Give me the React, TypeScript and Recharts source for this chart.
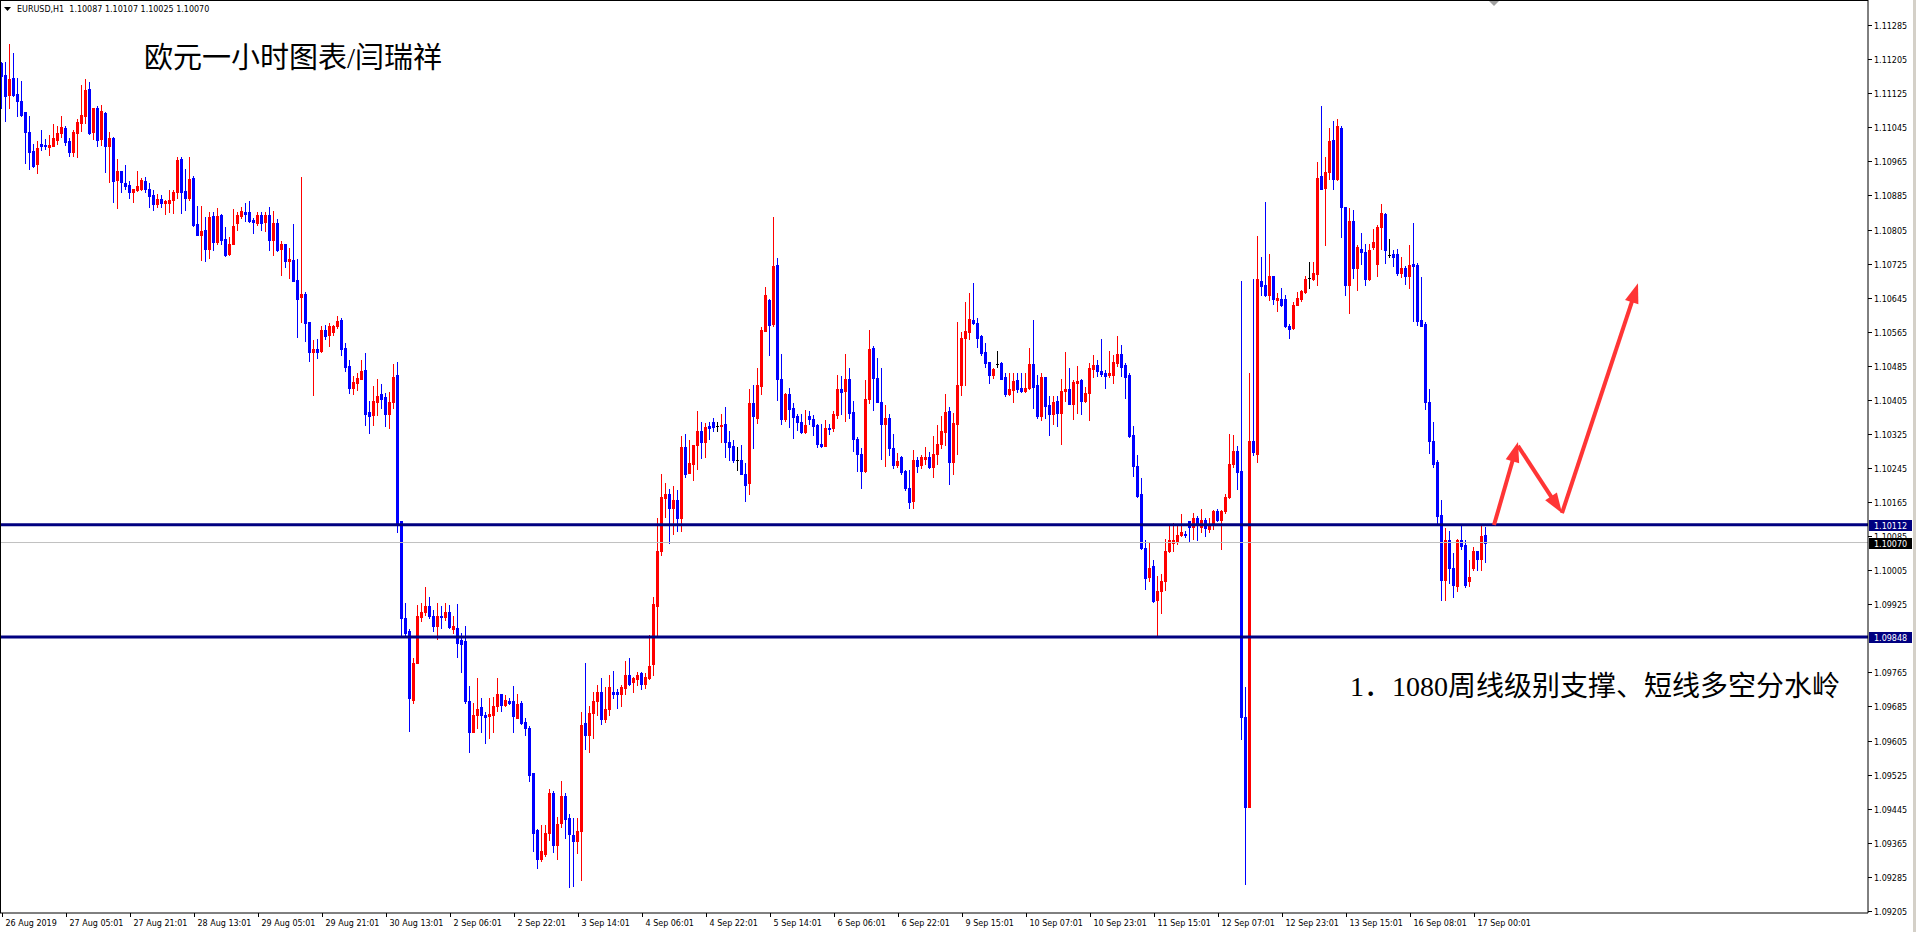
import React from 'react';
import { ComposedChart, Bar, XAxis, YAxis, ReferenceLine } from 'recharts';

// ---------- data (EURUSD H1) ----------
const timeLabels = [
  '26 Aug 2019', '27 Aug 05:01', '27 Aug 21:01', '28 Aug 13:01', '29 Aug 05:01', '29 Aug 21:01',
  '30 Aug 13:01', '2 Sep 06:01', '2 Sep 22:01', '3 Sep 14:01', '4 Sep 06:01', '4 Sep 22:01',
  '5 Sep 14:01', '6 Sep 06:01', '6 Sep 22:01', '9 Sep 15:01', '10 Sep 07:01', '10 Sep 23:01',
  '11 Sep 15:01', '12 Sep 07:01', '12 Sep 23:01', '13 Sep 15:01', '16 Sep 08:01', '17 Sep 00:01',
];
const timeTickBars = [0, 16, 32, 48, 64, 80, 96, 112, 128, 144, 160, 176, 192, 208, 224, 240, 256, 272, 288, 304, 320, 336, 352, 368];

const priceTicks = [
  1.11285, 1.11205, 1.11125, 1.11045, 1.10965, 1.10885, 1.10805, 1.10725, 1.10645, 1.10565,
  1.10485, 1.10405, 1.10325, 1.10245, 1.10165, 1.10085, 1.10005, 1.09925, 1.09765, 1.09685,
  1.09605, 1.09525, 1.09445, 1.09365, 1.09285, 1.09205,
];

const open = [
  1.11195,1.11168,1.11121,1.11162,1.11124,1.11107,1.11080,1.11034,1.10989,1.10959,
  1.11006,1.11004,1.10999,1.11002,1.11016,1.11031,1.11044,1.11013,1.10986,1.11031,
  1.11054,1.11072,1.11134,1.11033,1.11090,1.11018,1.11079,1.11000,1.11019,1.10921,
  1.10943,1.10914,1.10910,1.10892,1.10898,1.10900,1.10919,1.10900,1.10887,1.10864,
  1.10876,1.10867,1.10867,1.10875,1.10892,1.10970,1.10896,1.10878,1.10925,1.10818,
  1.10793,1.10804,1.10759,1.10836,1.10776,1.10839,1.10783,1.10748,1.10770,1.10821,
  1.10836,1.10846,1.10846,1.10827,1.10820,1.10839,1.10822,1.10838,1.10781,1.10821,
  1.10759,1.10770,1.10730,1.10734,1.10686,1.10646,1.10653,1.10587,1.10518,1.10525,
  1.10520,1.10568,1.10558,1.10565,1.10578,1.10592,1.10527,1.10484,1.10432,1.10444,
  1.10455,1.10475,1.10376,1.10369,1.10401,1.10418,1.10411,1.10372,1.10400,1.10463,
  1.10121,1.09892,1.09863,1.09700,1.09786,1.09895,1.09906,1.09920,1.09898,1.09875,
  1.09898,1.09895,1.09906,1.09866,1.09870,1.09840,1.09838,1.09697,1.09626,1.09664,
  1.09683,1.09666,1.09663,1.09664,1.09686,1.09714,1.09689,1.09698,1.09697,1.09658,
  1.09692,1.09649,1.09635,1.09529,1.09394,1.09327,1.09338,1.09388,1.09481,1.09360,
  1.09411,1.09475,1.09423,1.09383,1.09369,1.09392,1.09646,1.09618,1.09670,1.09698,
  1.09720,1.09655,1.09678,1.09720,1.09720,1.09714,1.09729,1.09758,1.09743,1.09750,
  1.09763,1.09738,1.09752,1.09784,1.09921,1.10051,1.10175,1.10183,1.10152,1.10169,
  1.10127,1.10295,1.10234,1.10255,1.10300,1.10332,1.10306,1.10343,1.10354,1.10344,
  1.10343,1.10349,1.10306,1.10297,1.10264,1.10264,1.10232,1.10209,1.10398,1.10363,
  1.10438,1.10567,1.10639,1.10583,1.10721,1.10455,1.10361,1.10418,1.10385,1.10367,
  1.10353,1.10330,1.10367,1.10361,1.10346,1.10302,1.10297,1.10340,1.10339,1.10369,
  1.10430,1.10426,1.10455,1.10376,1.10312,1.10279,1.10238,1.10408,1.10526,1.10457,
  1.10399,1.10349,1.10363,1.10291,1.10252,1.10270,1.10237,1.10199,1.10168,1.10263,
  1.10252,1.10266,1.10270,1.10248,1.10277,1.10302,1.10330,1.10379,1.10259,1.10349,
  1.10439,1.10551,1.10565,1.10592,1.10586,1.10555,1.10518,1.10494,1.10463,1.10490,
  1.10492,1.10459,1.10418,1.10428,1.10451,1.10434,1.10426,1.10432,1.10490,1.10439,
  1.10367,1.10459,1.10393,1.10371,1.10402,1.10374,1.10425,1.10430,1.10395,1.10445,
  1.10451,1.10402,1.10421,1.10477,1.10486,1.10473,1.10469,1.10463,1.10464,1.10492,
  1.10512,1.10486,1.10463,1.10323,1.10249,1.10184,1.10057,1.09989,1.10015,1.09935,
  1.09956,1.09980,1.10050,1.10070,1.10073,1.10087,1.10091,1.10120,1.10106,1.10128,
  1.10107,1.10124,1.10101,1.10110,1.10144,1.10122,1.10143,1.10177,1.10254,1.10285,
  1.10237,1.09660,1.09448,1.10309,1.10279,1.10685,1.10674,1.10652,1.10695,1.10640,
  1.10642,1.10642,1.10578,1.10574,1.10627,1.10642,1.10658,1.10692,1.10689,1.10701,
  1.10930,1.10902,1.10939,1.11016,1.10923,1.11044,1.10859,1.10674,1.10825,1.10714,
  1.10759,1.10753,1.10689,1.10763,1.10724,1.10810,1.10841,1.10745,1.10748,1.10748,
  1.10704,1.10714,1.10695,1.10724,1.10722,1.10593,1.10584,1.10399,1.10309,1.10260,
  1.10134,1.09983,1.10076,1.10009,1.09968,1.10076,1.10064,1.09980,1.10011,1.10050,
  1.10032,1.10087,
];
const high = [
  1.11198,1.11198,1.11241,1.11220,1.11162,1.11154,1.11082,1.11072,1.11006,1.11013,
  1.11038,1.11018,1.11026,1.11053,1.11049,1.11072,1.11049,1.11019,1.11038,1.11064,
  1.11145,1.11159,1.11152,1.11090,1.11096,1.11098,1.11080,1.11033,1.11022,1.10970,
  1.10943,1.10957,1.10919,1.10901,1.10943,1.10925,1.10929,1.10914,1.10898,1.10889,
  1.10887,1.10874,1.10898,1.10898,1.10975,1.10975,1.10948,1.10975,1.10930,1.10860,
  1.10860,1.10835,1.10846,1.10847,1.10856,1.10842,1.10810,1.10788,1.10853,1.10847,
  1.10857,1.10867,1.10872,1.10833,1.10846,1.10847,1.10847,1.10858,1.10849,1.10829,
  1.10779,1.10772,1.10761,1.10818,1.10736,1.10929,1.10659,1.10587,1.10545,1.10547,
  1.10579,1.10581,1.10586,1.10581,1.10601,1.10597,1.10538,1.10498,1.10461,1.10468,
  1.10498,1.10516,1.10403,1.10437,1.10455,1.10443,1.10421,1.10424,1.10489,1.10494,
  1.10121,1.09927,1.09866,1.09798,1.09923,1.09929,1.09966,1.09943,1.09912,1.09927,
  1.09920,1.09929,1.09923,1.09897,1.09926,1.09858,1.09874,1.09732,1.09692,1.09752,
  1.09704,1.09672,1.09706,1.09708,1.09752,1.09715,1.09712,1.09706,1.09732,1.09714,
  1.09697,1.09658,1.09638,1.09529,1.09397,1.09407,1.09407,1.09492,1.09486,1.09426,
  1.09510,1.09481,1.09432,1.09424,1.09424,1.09672,1.09788,1.09687,1.09718,1.09735,
  1.09752,1.09731,1.09760,1.09769,1.09726,1.09735,1.09792,1.09798,1.09755,1.09766,
  1.09767,1.09763,1.09852,1.09943,1.10127,1.10232,1.10209,1.10195,1.10203,1.10194,
  1.10320,1.10326,1.10310,1.10300,1.10380,1.10354,1.10350,1.10352,1.10363,1.10352,
  1.10371,1.10389,1.10331,1.10310,1.10295,1.10300,1.10257,1.10430,1.10441,1.10479,
  1.10576,1.10669,1.10641,1.10835,1.10737,1.10512,1.10420,1.10433,1.10398,1.10371,
  1.10371,1.10381,1.10378,1.10369,1.10349,1.10348,1.10357,1.10348,1.10379,1.10463,
  1.10461,1.10512,1.10479,1.10402,1.10318,1.10291,1.10451,1.10569,1.10531,1.10504,
  1.10479,1.10392,1.10371,1.10324,1.10281,1.10273,1.10240,1.10240,1.10287,1.10270,
  1.10275,1.10295,1.10283,1.10320,1.10346,1.10367,1.10418,1.10389,1.10373,1.10588,
  1.10565,1.10635,1.10656,1.10680,1.10598,1.10557,1.10539,1.10494,1.10479,1.10520,
  1.10493,1.10467,1.10468,1.10468,1.10467,1.10468,1.10467,1.10527,1.10592,1.10463,
  1.10468,1.10459,1.10414,1.10414,1.10414,1.10454,1.10517,1.10480,1.10451,1.10485,
  1.10453,1.10436,1.10492,1.10510,1.10499,1.10547,1.10476,1.10519,1.10511,1.10555,
  1.10533,1.10492,1.10467,1.10344,1.10276,1.10221,1.10075,1.10070,1.10029,1.09992,
  1.09996,1.10079,1.10110,1.10116,1.10110,1.10137,1.10097,1.10120,1.10140,1.10132,
  1.10149,1.10128,1.10128,1.10147,1.10149,1.10147,1.10184,1.10325,1.10323,1.10297,
  1.10683,1.09731,1.10467,1.10689,1.10790,1.10741,1.10870,1.10748,1.10695,1.10655,
  1.10667,1.10652,1.10584,1.10634,1.10658,1.10664,1.10695,1.10729,1.10729,1.10964,
  1.11094,1.10975,1.11044,1.11059,1.11065,1.11049,1.10859,1.10856,1.10852,1.10769,
  1.10798,1.10772,1.10772,1.10806,1.10815,1.10864,1.10843,1.10782,1.10757,1.10759,
  1.10741,1.10720,1.10769,1.10821,1.10726,1.10693,1.10587,1.10430,1.10354,1.10264,
  1.10171,1.10103,1.10097,1.10046,1.10079,1.10110,1.10076,1.10029,1.10060,1.10050,
  1.10110,1.10107,
];
const low = [
  1.11090,1.11061,1.11090,1.11119,1.11072,1.11072,1.10962,1.10946,1.10953,1.10938,
  1.10991,1.10995,1.10979,1.11000,1.11006,1.11022,1.11004,1.10977,1.10977,1.10975,
  1.11036,1.11056,1.11029,1.11018,1.11000,1.11004,1.10941,1.10916,1.10869,1.10855,
  1.10892,1.10901,1.10878,1.10869,1.10896,1.10898,1.10892,1.10857,1.10851,1.10858,
  1.10858,1.10842,1.10846,1.10844,1.10878,1.10844,1.10851,1.10875,1.10813,1.10793,
  1.10734,1.10730,1.10739,1.10758,1.10770,1.10770,1.10743,1.10745,1.10770,1.10804,
  1.10831,1.10826,1.10822,1.10797,1.10815,1.10804,1.10802,1.10757,1.10745,1.10754,
  1.10698,1.10718,1.10691,1.10685,1.10552,1.10587,1.10543,1.10496,1.10416,1.10503,
  1.10518,1.10547,1.10532,1.10557,1.10574,1.10511,1.10473,1.10421,1.10419,1.10428,
  1.10453,1.10347,1.10327,1.10347,1.10369,1.10386,1.10344,1.10338,1.10386,1.10095,
  1.09849,1.09849,1.09628,1.09692,1.09786,1.09886,1.09900,1.09892,1.09863,1.09843,
  1.09870,1.09889,1.09870,1.09858,1.09800,1.09766,1.09692,1.09577,1.09624,1.09635,
  1.09626,1.09600,1.09612,1.09626,1.09675,1.09675,1.09687,1.09691,1.09624,1.09658,
  1.09643,1.09617,1.09510,1.09346,1.09306,1.09323,1.09335,1.09371,1.09343,1.09327,
  1.09403,1.09375,1.09260,1.09264,1.09340,1.09277,1.09586,1.09578,1.09612,1.09666,
  1.09645,1.09649,1.09664,1.09704,1.09681,1.09686,1.09715,1.09735,1.09720,1.09735,
  1.09726,1.09729,1.09750,1.09760,1.09851,1.10040,1.10129,1.10068,1.10089,1.10097,
  1.10097,1.10224,1.10234,1.10217,1.10243,1.10269,1.10272,1.10312,1.10331,1.10331,
  1.10306,1.10270,1.10264,1.10260,1.10241,1.10230,1.10167,1.10183,1.10291,1.10351,
  1.10418,1.10567,1.10510,1.10578,1.10404,1.10348,1.10356,1.10342,1.10316,1.10334,
  1.10328,1.10327,1.10348,1.10322,1.10295,1.10295,1.10297,1.10326,1.10332,1.10363,
  1.10371,1.10356,1.10363,1.10285,1.10238,1.10199,1.10236,1.10398,1.10382,1.10399,
  1.10265,1.10250,1.10275,1.10246,1.10248,1.10232,1.10194,1.10152,1.10152,1.10236,
  1.10244,1.10255,1.10245,1.10223,1.10255,1.10291,1.10299,1.10208,1.10230,1.10277,
  1.10416,1.10439,1.10547,1.10583,1.10529,1.10510,1.10483,1.10445,1.10457,1.10483,
  1.10453,1.10414,1.10416,1.10400,1.10424,1.10424,1.10424,1.10430,1.10387,1.10363,
  1.10357,1.10363,1.10322,1.10349,1.10343,1.10301,1.10402,1.10395,1.10360,1.10375,
  1.10371,1.10400,1.10357,1.10459,1.10461,1.10461,1.10433,1.10459,1.10445,1.10484,
  1.10461,1.10410,1.10317,1.10227,1.10177,1.10054,1.09962,1.09980,1.09931,1.09851,
  1.09904,1.09959,1.10048,1.10050,1.10067,1.10085,1.10083,1.10073,1.10079,1.10076,
  1.10094,1.10085,1.10095,1.10101,1.10120,1.10054,1.10140,1.10174,1.10248,1.10196,
  1.09608,1.09268,1.09448,1.10276,1.10258,1.10652,1.10650,1.10640,1.10630,1.10613,
  1.10625,1.10576,1.10551,1.10572,1.10627,1.10637,1.10655,1.10667,1.10687,1.10674,
  1.10899,1.10769,1.10923,1.10899,1.10921,1.10788,1.10652,1.10609,1.10692,1.10664,
  1.10724,1.10674,1.10687,1.10759,1.10695,1.10759,1.10726,1.10741,1.10720,1.10699,
  1.10693,1.10677,1.10667,1.10590,1.10581,1.10578,1.10383,1.10280,1.10248,1.10116,
  1.09935,1.09935,1.09974,1.09943,1.09955,1.10054,1.09965,1.09968,1.10005,1.10005,
  1.10005,1.10025,
];
const close = [
  1.11166,1.11119,1.11159,1.11121,1.11106,1.11074,1.11035,1.10988,1.10955,1.10997,
  1.11000,1.11000,1.11004,1.11019,1.11031,1.11046,1.11011,1.10986,1.11034,1.11058,
  1.11074,1.11133,1.11031,1.11090,1.11015,1.11083,1.11000,1.11020,1.10918,1.10943,
  1.10916,1.10907,1.10894,1.10900,1.10907,1.10921,1.10900,1.10884,1.10864,1.10876,
  1.10867,1.10872,1.10875,1.10894,1.10968,1.10893,1.10880,1.10923,1.10815,1.10793,
  1.10802,1.10759,1.10835,1.10775,1.10836,1.10781,1.10746,1.10770,1.10813,1.10838,
  1.10848,1.10842,1.10824,1.10822,1.10840,1.10821,1.10838,1.10781,1.10821,1.10757,
  1.10772,1.10730,1.10736,1.10685,1.10641,1.10653,1.10586,1.10518,1.10525,1.10518,
  1.10568,1.10556,1.10579,1.10579,1.10590,1.10524,1.10482,1.10434,1.10446,1.10457,
  1.10473,1.10371,1.10367,1.10403,1.10415,1.10407,1.10372,1.10400,1.10459,1.10112,
  1.09892,1.09857,1.09704,1.09786,1.09898,1.09906,1.09920,1.09898,1.09875,1.09897,
  1.09895,1.09906,1.09872,1.09874,1.09835,1.09832,1.09697,1.09624,1.09666,1.09680,
  1.09664,1.09660,1.09668,1.09687,1.09714,1.09689,1.09700,1.09692,1.09663,1.09691,
  1.09647,1.09635,1.09523,1.09388,1.09327,1.09346,1.09388,1.09481,1.09360,1.09409,
  1.09475,1.09420,1.09386,1.09369,1.09392,1.09641,1.09617,1.09670,1.09698,1.09718,
  1.09655,1.09680,1.09731,1.09714,1.09714,1.09731,1.09760,1.09738,1.09752,1.09760,
  1.09738,1.09754,1.09780,1.09926,1.10049,1.10177,1.10183,1.10152,1.10169,1.10127,
  1.10295,1.10230,1.10257,1.10300,1.10332,1.10306,1.10341,1.10339,1.10341,1.10344,
  1.10346,1.10306,1.10295,1.10263,1.10264,1.10230,1.10206,1.10398,1.10366,1.10439,
  1.10569,1.10651,1.10580,1.10719,1.10454,1.10360,1.10418,1.10383,1.10365,1.10353,
  1.10330,1.10346,1.10360,1.10343,1.10301,1.10297,1.10340,1.10337,1.10371,1.10430,
  1.10424,1.10454,1.10373,1.10312,1.10279,1.10238,1.10408,1.10524,1.10457,1.10400,
  1.10349,1.10363,1.10291,1.10252,1.10261,1.10236,1.10198,1.10165,1.10263,1.10250,
  1.10271,1.10270,1.10248,1.10279,1.10302,1.10331,1.10376,1.10258,1.10351,1.10439,
  1.10551,1.10566,1.10594,1.10586,1.10551,1.10515,1.10492,1.10463,1.10477,1.10490,
  1.10454,1.10418,1.10430,1.10450,1.10430,1.10426,1.10433,1.10490,1.10436,1.10367,
  1.10459,1.10391,1.10371,1.10400,1.10375,1.10425,1.10430,1.10396,1.10447,1.10450,
  1.10402,1.10422,1.10479,1.10486,1.10472,1.10465,1.10461,1.10468,1.10493,1.10512,
  1.10483,1.10459,1.10319,1.10249,1.10180,1.10057,1.09986,1.10011,1.09933,1.09956,
  1.09980,1.10050,1.10075,1.10075,1.10087,1.10095,1.10087,1.10106,1.10128,1.10110,
  1.10122,1.10103,1.10110,1.10144,1.10122,1.10143,1.10177,1.10254,1.10285,1.10235,
  1.09660,1.09448,1.10309,1.10282,1.10689,1.10673,1.10652,1.10695,1.10642,1.10644,
  1.10627,1.10578,1.10572,1.10627,1.10644,1.10661,1.10689,1.10692,1.10704,1.10926,
  1.10901,1.10939,1.11013,1.10923,1.11047,1.10859,1.10674,1.10825,1.10714,1.10763,
  1.10753,1.10689,1.10757,1.10775,1.10812,1.10843,1.10757,1.10745,1.10741,1.10704,
  1.10714,1.10695,1.10722,1.10720,1.10590,1.10578,1.10399,1.10309,1.10254,1.10132,
  1.09983,1.10076,1.10009,1.09970,1.10076,1.10063,1.09970,1.09989,1.10050,1.10032,
  1.10085,1.10070,
];

const upperLevel = 1.10112;
const lowerLevel = 1.09848;
const bidLevel = 1.10070;

// hand-drawn forecast arrows: [bar, price] -> [bar, price]
const arrowLegs = [
  { x1: 373, p1: 1.10111, x2: 379, p2: 1.10306 },
  { x1: 379, p1: 1.10297, x2: 390, p2: 1.10139 },
  { x1: 390, p1: 1.10139, x2: 409, p2: 1.10679 },
];

// ---------- layout constants ----------
const W = 1916;
const H = 932;
const TOTAL_SLOTS = 467; // chart width incl. right shift space
const Y_DOMAIN: [number, number] = [1.092, 1.11344];
const TICK_FONT = "'DejaVu Sans', 'Liberation Sans', sans-serif";
const CJK_FONT = "'Liberation Serif', 'Noto Sans CJK SC', serif";

const chartData = Array.from({ length: TOTAL_SLOTS }, (_, i) =>
  i < open.length
    ? { i, range: [low[i], high[i]], o: open[i], h: high[i], l: low[i], c: close[i] }
    : { i, range: null }
);

function Candle(props: any) {
  const { x, y, width, height, payload } = props;
  if (!payload || payload.o == null || x == null || y == null) return null;
  const { o, h, l, c } = payload;
  const top = Math.min(y, y + height);
  const span = Math.abs(height);
  const rng = h - l;
  const toY = (v: number) => (rng > 0 ? top + ((h - v) / rng) * span : top);
  const color = c > o ? '#FF0000' : c < o ? '#0000FF' : '#000000';
  const left = Math.round(x + width / 2 - 2);
  const yH = Math.round(top);
  const yL = Math.round(top + span);
  const bTop = Math.round(toY(Math.max(o, c)));
  const bBot = Math.round(toY(Math.min(o, c)));
  return (
    <g shapeRendering="crispEdges">
      <rect x={left + 1} y={yH} width={1} height={Math.max(1, yL - yH + 1)} fill={color} />
      <rect x={left} y={bTop} width={3} height={Math.max(1, bBot - bTop + 1)} fill={color} />
    </g>
  );
}

function TimeTick(props: any) {
  const { x, y, payload } = props;
  const k = timeTickBars.indexOf(payload.value);
  if (k < 0) return null;
  const xx = Math.round(x) + 0.5;
  return (
    <g>
      <line x1={xx} x2={xx} y1={y} y2={y + 4} stroke="#000" strokeWidth={1} />
      <text x={xx + 3} y={y + 13} fontSize={8} fontFamily={TICK_FONT} fill="#000">
        {timeLabels[k]}
      </text>
    </g>
  );
}

function PriceTick(props: any) {
  const { x, y, payload } = props;
  const yy = Math.round(y) + 0.5;
  return (
    <g>
      <line x1={x} x2={x + 4} y1={yy} y2={yy} stroke="#000" strokeWidth={1} />
      <text x={x + 6} y={yy} dy={3} fontSize={8} fontFamily={TICK_FONT} fill="#000">
        {Number(payload.value).toFixed(5)}
      </text>
    </g>
  );
}

function PriceBox(props: any) {
  const { viewBox, text, bg } = props;
  if (!viewBox) return null;
  const x = viewBox.x + viewBox.width;
  const y = Math.round(viewBox.y);
  return (
    <g>
      <rect x={x + 1} y={y - 5} width={43} height={11} fill={bg} />
      <text x={x + 6} y={y + 3.5} fontSize={8} fontFamily={TICK_FONT} fill="#FFFFFF">
        {text}
      </text>
    </g>
  );
}

function ArrowShape(props: any) {
  const { x1, y1, x2, y2 } = props;
  if ([x1, y1, x2, y2].some((v) => v == null || Number.isNaN(v))) return null;
  const dx = x2 - x1;
  const dy = y2 - y1;
  const len = Math.hypot(dx, dy) || 1;
  const ux = dx / len;
  const uy = dy / len;
  const hl = 20;
  const hw = 7;
  const bx = x2 - ux * hl;
  const by = y2 - uy * hl;
  const px = -uy;
  const py = ux;
  const col = '#FF3535';
  return (
    <g>
      <line x1={x1} y1={y1} x2={bx + ux * 2} y2={by + uy * 2} stroke={col} strokeWidth={4} />
      <polygon
        points={`${x2},${y2} ${bx + px * hw},${by + py * hw} ${bx - px * hw},${by - py * hw}`}
        fill={col}
      />
    </g>
  );
}

export default function App() {
  return (
    <div style={{ position: 'fixed', left: 0, top: 0, width: W, height: H, background: '#fff' }}>
      <ComposedChart
        width={W}
        height={H}
        data={chartData}
        margin={{ top: 0, right: 0, bottom: 0, left: 0 }}
        barCategoryGap={0}
        barGap={0}
      >
        <XAxis
          dataKey="i"
          type="category"
          height={19}
          ticks={timeTickBars}
          interval={0}
          tickSize={0}
          tickMargin={0}
          tickLine={false}
          tick={<TimeTick />}
          axisLine={{ stroke: '#000', strokeWidth: 1 }}
        />
        <YAxis
          orientation="right"
          width={48}
          type="number"
          domain={Y_DOMAIN}
          allowDataOverflow
          ticks={priceTicks}
          interval={0}
          tickSize={0}
          tickMargin={0}
          tickLine={false}
          tick={<PriceTick />}
          axisLine={{ stroke: '#000', strokeWidth: 1 }}
        />
        <Bar dataKey="range" shape={<Candle />} isAnimationActive={false} />
        <ReferenceLine y={bidLevel} stroke="#C0C0C0" strokeWidth={1}
          label={<PriceBox text="1.10070" bg="#000000" />} />
        <ReferenceLine y={upperLevel} stroke="#000080" strokeWidth={3}
          label={<PriceBox text="1.10112" bg="#000080" />} />
        <ReferenceLine y={lowerLevel} stroke="#000080" strokeWidth={3}
          label={<PriceBox text="1.09848" bg="#000080" />} />
        {arrowLegs.map((a, k) => (
          <ReferenceLine
            key={k}
            segment={[{ x: a.x1, y: a.p1 }, { x: a.x2, y: a.p2 }]}
            shape={(p: any) => <ArrowShape {...p} />}
          />
        ))}
      </ComposedChart>
      <svg
        width={W}
        height={H}
        style={{ position: 'absolute', left: 0, top: 0, pointerEvents: 'none' }}
      >
        <line x1={0.5} y1={0} x2={0.5} y2={913} stroke="#000" />
        <line x1={0} y1={0.5} x2={1868} y2={0.5} stroke="#000" />
        <rect x={1913} y={0} width={3} height={H} fill="#D4D0C8" />
        <polygon points="1489,1 1499,1 1494,6" fill="#A0A0A0" />
        <polygon points="4,7 11,7 7.5,11" fill="#000" />
        <text x={17} y={11.5} fontSize={8} fontFamily={TICK_FONT} fill="#000" style={{ whiteSpace: 'pre' }}>
          {'EURUSD,H1  1.10087 1.10107 1.10025 1.10070'}
        </text>
        <text x={144} y={68} fontSize={29} fontFamily={CJK_FONT} fill="#000">
          欧元一小时图表/闫瑞祥
        </text>
        <text x={1350} y={696} fontSize={28} fontFamily={CJK_FONT} fill="#000">
          1．1080周线级别支撑、短线多空分水岭
        </text>
      </svg>
    </div>
  );
}
